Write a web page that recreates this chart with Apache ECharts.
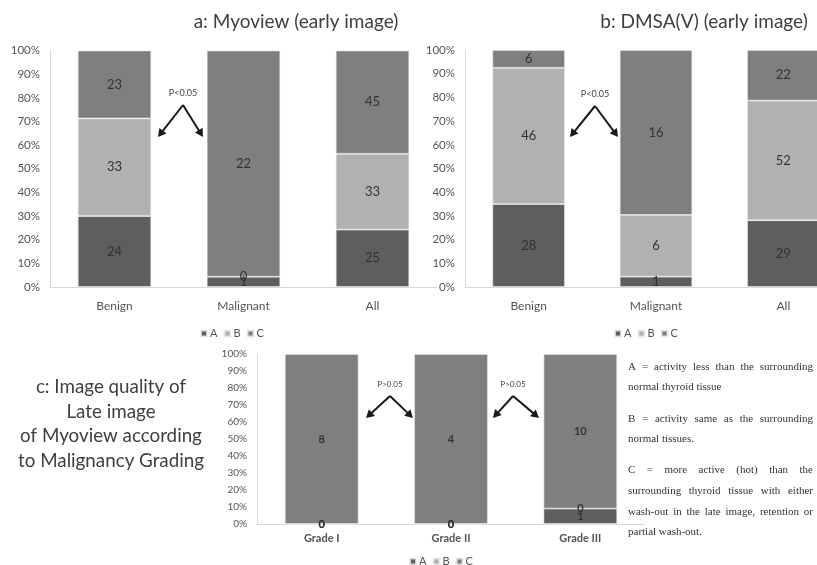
<!DOCTYPE html>
<html><head><meta charset="utf-8">
<script src="https://cdn.jsdelivr.net/npm/echarts@6/dist/echarts.min.js"></script>
<style>html,body{margin:0;padding:0;background:#fff}#c{width:817px;height:565px}</style>
</head><body><div id="c"></div>
<script>
// ---- data ----
const catsAB = ['Benign', 'Malignant', 'All'];
const catsC = ['Grade I', 'Grade II', 'Grade III'];
const seriesNames = ['A', 'B', 'C'];
// a: Myoview (early image) counts
const myoA = [24, 1, 25];
const myoB = [33, 0, 33];
const myoC = [23, 22, 45];
// b: DMSA(V) (early image) counts
const dmsaA = [28, 1, 29];
const dmsaB = [46, 6, 52];
const dmsaC = [6, 16, 22];
// c: late image of Myoview by grade counts
const lateA = [0, 0, 1];
const lateB = [0, 0, 0];
const lateC = [8, 4, 10];

const colors = ['#5e5e5e', '#b1b1b1', '#7f7f7f'];
const FONT = 'Lato, "Open Sans", sans-serif';

function pctSeries(groups, gridIdx, stack, labelSize, labelWeight) {
  const totals = groups[0].map((_, i) => groups.reduce((s, g) => s + g[i], 0));
  return groups.map((g, k) => ({
    name: seriesNames[k], type: 'bar', stack: stack,
    xAxisIndex: gridIdx, yAxisIndex: gridIdx,
    barWidth: '57%',
    itemStyle: { color: colors[k], borderColor: 'rgba(235,235,235,0.8)', borderWidth: 0.8 },
    label: { show: true, position: 'inside', color: '#333', fontFamily: FONT,
             fontSize: labelSize, fontWeight: labelWeight, formatter: p => p.data.count },
    data: g.map((v, i) => ({ value: v / totals[i] * 100, count: v }))
  }));
}

function arrowGraphic(ax, ay, bx, by) {
  const dx = bx - ax, dy = by - ay, L = Math.hypot(dx, dy);
  const ux = dx / L, uy = dy / L, nx = -uy, ny = ux;
  const hl = 8, hw = 4.5;
  const baseX = bx - ux * hl, baseY = by - uy * hl;
  return [
    { type: 'line', z: 100, shape: { x1: ax, y1: ay, x2: baseX + ux * 2, y2: baseY + uy * 2 },
      style: { stroke: '#1a1a1a', lineWidth: 2 } },
    { type: 'polygon', z: 100, shape: { points: [[bx, by], [baseX + nx * hw, baseY + ny * hw], [baseX - nx * hw, baseY - ny * hw]] },
      style: { fill: '#1a1a1a' } }
  ];
}
function pAnnot(text, ax, ay, lx, rx, ey, size) {
  return [
    { type: 'text', z: 100, x: ax, y: ay - 12, style: { text: text, fontSize: size, fontFamily: FONT, fill: '#444', align: 'center', verticalAlign: 'middle' } },
    ...arrowGraphic(ax, ay, lx, ey),
    ...arrowGraphic(ax, ay, rx, ey)
  ];
}

// justified serif paragraph lines
const meas = document.createElement('canvas').getContext('2d');
const SERIF = '"Liberation Serif", "DejaVu Serif", serif';
meas.font = '11px ' + SERIF;
function textLine(line, x0, x1, y, just) {
  const st = { fontSize: 11, fontFamily: SERIF, fill: '#333', verticalAlign: 'middle' };
  if (!just) return [{ type: 'text', x: x0, y: y, style: Object.assign({ text: line }, st) }];
  const words = line.split(' ');
  const ws = words.map(w => meas.measureText(w).width);
  const gap = (x1 - x0 - ws.reduce((a, b) => a + b, 0)) / (words.length - 1);
  const out = []; let x = x0;
  words.forEach((w, i) => { out.push({ type: 'text', x: x, y: y, style: Object.assign({ text: w }, st) }); x += ws[i] + gap; });
  return out;
}
const noteLines = [
  ['A = activity less than the surrounding', 367, true],
  ['normal thyroid tissue', 387, false],
  ['B = activity same as the surrounding', 419, true],
  ['normal tissues.', 439, false],
  ['C = more active (hot) than the', 470, true],
  ['surrounding thyroid tissue with either', 491, true],
  ['wash-out in the late image, retention or', 512, true],
  ['partial wash-out.', 532, false]
];

const axisLineStyle = { lineStyle: { color: '#d9d9d9', width: 1 } };
function xAx(cats, grid, size, weight, margin) {
  return { type: 'category', gridIndex: grid, data: cats, axisTick: { show: false },
    axisLine: axisLineStyle, axisLabel: { color: '#555', fontFamily: FONT, fontSize: size, fontWeight: weight, margin: margin } };
}
function yAx(grid, size) {
  return { type: 'value', gridIndex: grid, min: 0, max: 100, interval: 10,
    axisLine: Object.assign({ show: true }, axisLineStyle), axisTick: { show: false }, splitLine: { show: false },
    axisLabel: { formatter: '{value}%', color: '#555', fontFamily: FONT, fontSize: size, margin: 10 } };
}
function legend(left, top) {
  return { left: left, top: top, icon: 'rect', itemWidth: 6, itemHeight: 6, itemGap: 6,
    data: seriesNames, textStyle: { color: '#555', fontFamily: FONT, fontSize: 11, padding: [0, 0, 0, -2] } };
}

const graphics = [
  { type: 'text', x: 296, y: 22, style: { text: 'a: Myoview (early image)', fontSize: 19, fontFamily: FONT, fill: '#404040', align: 'center', verticalAlign: 'middle' } },
  { type: 'text', x: 704, y: 22, style: { text: 'b: DMSA(V) (early image)', fontSize: 19, fontFamily: FONT, fill: '#404040', align: 'center', verticalAlign: 'middle' } },
  { type: 'text', x: 111, y: 424, style: { text: 'c: Image quality of\nLate image\nof Myoview according\nto Malignancy Grading', fontSize: 18.8, lineHeight: 24.7, fontFamily: FONT, fill: '#404040', align: 'center', verticalAlign: 'middle' } },
  ...pAnnot('P<0.05', 183, 105, 158, 203, 137, 9),
  ...pAnnot('P<0.05', 595, 106, 570, 618, 137, 9),
  ...pAnnot('P>0.05', 390, 396, 366, 413, 418, 8),
  ...pAnnot('P>0.05', 513, 396, 493, 539, 418, 8)
];
noteLines.forEach(l => graphics.push(...textLine(l[0], 628, 813, l[1], l[2])));

const chart = echarts.init(document.getElementById('c'), null, { renderer: 'canvas' });
chart.setOption({
  animation: false,
  color: colors,
  grid: [
    { left: 50, top: 50.5, width: 387, height: 236.5, outerBoundsMode: 'none', containLabel: false },
    { left: 465, top: 50, width: 382, height: 237, outerBoundsMode: 'none', containLabel: false },
    { left: 257, top: 354, width: 388, height: 170, outerBoundsMode: 'none', containLabel: false }
  ],
  xAxis: [xAx(catsAB, 0, 12, 'normal', 13), xAx(catsAB, 1, 12, 'normal', 13), xAx(catsC, 2, 11, 'bold', 9)],
  yAxis: [yAx(0, 11.5), yAx(1, 11.5), yAx(2, 10)],
  legend: [legend(195, 323), legend(609, 323), legend(404, 551)],
  series: [
    ...pctSeries([myoA, myoB, myoC], 0, 'a', 13, 'normal'),
    ...pctSeries([dmsaA, dmsaB, dmsaC], 1, 'b', 13, 'normal'),
    ...pctSeries([lateA, lateB, lateC], 2, 'c', 11, 'bold')
  ],
  graphic: graphics
});
</script></body></html>
